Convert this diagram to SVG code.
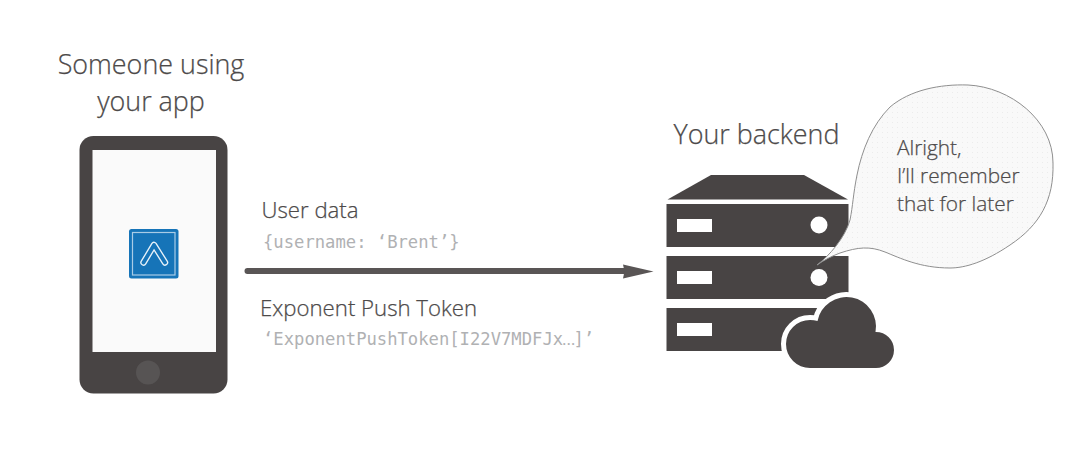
<svg xmlns="http://www.w3.org/2000/svg" width="1073" height="455" viewBox="0 0 1073 455">
<style>
.t{font-family:"Open Sans","Noto Sans",sans-serif;font-weight:300;fill:#4d4a4a;stroke:#4d4a4a;stroke-width:.25px}
.h{font-size:26.900px}
.m{font-size:22.200px}
.b{font-size:20.800px}
.c{font-family:"DejaVu Sans Mono","Liberation Mono",monospace;font-size:17.200px;fill:#b0b1b3}
.e{font-family:"Open Sans",sans-serif}
.d{fill:#484444}
.w{fill:#fff}
</style>
<defs>
<pattern id="dots" width="5" height="5" patternUnits="userSpaceOnUse">
<rect width="5" height="5" fill="#f9f9f9"/>
<rect x="2" y="2" width="1" height="1" fill="#ececec"/>
</pattern>
</defs>
<rect width="1073" height="455" fill="#fff"/>
<g id="phone">
<text class="t h" x="151" y="74" text-anchor="middle">Someone using</text>
<text class="t h" x="151" y="111" text-anchor="middle">your app</text>
<rect class="d" x="79.500" y="136" width="148" height="257.500" rx="14"/>
<rect x="92.500" y="150" width="123.500" height="202" fill="#fafafa"/>
<circle cx="148" cy="372.500" r="12" fill="#575454"/>
<rect x="129" y="229" width="49.500" height="49.500" rx="2.500" fill="#1674b8"/>
<rect x="132.500" y="232.500" width="42.500" height="42.500" fill="none" stroke="#a9cce6" stroke-width="1.200"/>
<path d="M143.500 262.500L154 245L165 262.500" fill="none" stroke="#e8f2f9" stroke-width="6.500" stroke-linecap="round" stroke-linejoin="round"/>
<path d="M143.500 262.500L154 245L165 262.500" fill="none" stroke="#1674b8" stroke-width="3.800" stroke-linecap="round" stroke-linejoin="round"/>
</g>
<g id="connectors">
<path d="M247.500 271H630" fill="none" stroke="#595555" stroke-width="6" stroke-linecap="round"/>
<path d="M623 264.500L653.500 271.500L623 278.500Q625 271.500 623 264.500Z" fill="#595555"/>
</g>
<g id="user-data">
<text class="t m" x="261.500" y="217.500">User data</text>
<text class="c" x="263" y="248">{username: ‘Brent’}</text>
</g>
<g id="token">
<text class="t m" x="260" y="316">Exponent Push Token</text>
<text class="c" x="263" y="345">‘ExponentPushToken[I22V7MDFJx<tspan class="e" dx="-1">…</tspan><tspan dx="-2">]</tspan>’</text>
</g>
<g id="backend">
<text class="t h" x="673.500" y="144">Your backend</text>
<path class="d" d="M667.500 199.500L711 175H804L848 199.500Z"/>
<rect class="d" x="666.500" y="204" width="182" height="43"/>
<rect class="d" x="666.500" y="256" width="182" height="43"/>
<rect class="d" x="666.500" y="308" width="182" height="43"/>
<rect class="w" x="677" y="219" width="35" height="13"/>
<rect class="w" x="677" y="271" width="35" height="13"/>
<rect class="w" x="677" y="323" width="35" height="13"/>
<circle class="w" cx="819" cy="225" r="8.500"/>
<circle class="w" cx="819" cy="277.500" r="8.500"/>
<path class="d" d="M810 368A24 24 0 0 1 810 320Q814 320 817.500 321A29.500 29.500 0 0 1 875.500 332L876 332A18 18 0 0 1 876 368Z" stroke="#fff" stroke-width="10" paint-order="stroke"/>
</g>
<g id="bubble">
<path d="M817 265C829 256 845 238 850 220C853 205 853 195 857 175C862 150 872 125 890 107C910 90 940 84 968 85C1010 87 1053 120 1053 163C1054 200 1040 225 1010 245C985 262 965 268 950 268C920 268 900 258 885 252C870 246 858 247 840 253C832 256 824 260 817 265Z" fill="url(#dots)" stroke="#8f8f8f" stroke-width="1"/>
<text class="t b" x="897" y="155">Alright,</text>
<text class="t b" x="897" y="183">I’ll remember</text>
<text class="t b" x="897" y="211">that for later</text>
</g>
</svg>
